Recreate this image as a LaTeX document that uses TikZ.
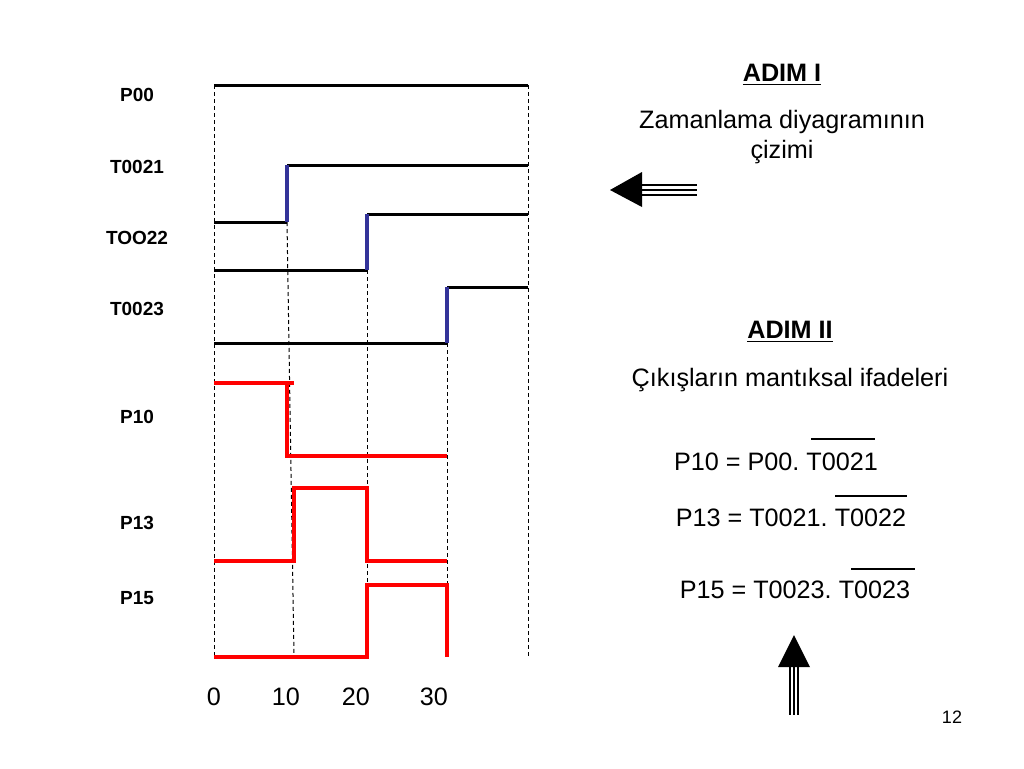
\documentclass[tikz,border=0pt]{standalone}
\usepackage{fontspec}
\setmainfont{Liberation Sans}
\frenchspacing
\definecolor{bleu}{RGB}{51,51,153}
\tikzset{
  etiq/.style={font=\bfseries\fontsize{9.5}{11}\selectfont},
  texte/.style={font=\fontsize{12.6}{15}\selectfont},
  signal/.style={line width=1.5pt},
  front/.style={line width=2pt, bleu},
  sortie/.style={line width=1.8pt, red},
  repere/.style={line width=0.5pt, dash pattern=on 2pt off 1.5pt},
}
\begin{document}
\begin{tikzpicture}[x=0.5pt, y=-0.5pt]
    \useasboundingbox (0,0) rectangle (1024,768);

    % Lignes de repere en pointilles
    \draw[repere] (214,85) -- (214,657);
    \draw[repere] (528,85) -- (528,657);
    \draw[repere] (287,222) -- (294,657);
    \draw[repere] (367,270) -- (367,657);
    \draw[repere] (447,343) -- (447,657);

    % Noms des signaux
    \node[etiq] (p00) at (137,95) {P00};
    \node[etiq] (t21) at (137,167) {T0021};
    \node[etiq] (t22) at (137,238) {TOO22};
    \node[etiq] (t23) at (137,309) {T0023};
    \node[etiq] (p10) at (137,417) {P10};
    \node[etiq] (p13) at (137,523) {P13};
    \node[etiq] (p15) at (137,598) {P15};

    % Entrees
    \draw[signal] (214,85) -- (528,85);
    \draw[signal] (214,222) -- (287,222);
    \draw[signal] (287,165) -- (528,165);
    \draw[signal] (214,270) -- (367,270);
    \draw[signal] (367,214) -- (528,214);
    \draw[signal] (214,343) -- (447,343);
    \draw[signal] (447,287) -- (528,287);
    % Fronts montants
    \draw[front] (287,222) -- (287,165);
    \draw[front] (367,270) -- (367,214);
    \draw[front] (447,343) -- (447,287);

    % Sorties
    \draw[sortie] (214,383) -- (294,383);
    \draw[sortie] (287,383) -- (287,456) -- (447,456);
    \draw[sortie] (214,561) -- (294,561) -- (294,488) -- (367,488) -- (367,561) -- (447,561);
    \draw[sortie] (214,657) -- (367,657) -- (367,585) -- (447,585) -- (447,657);

    % Axe des temps
    \foreach \t/\x in {0/214,10/286,20/356,30/434}
        \node[texte] (t\t) at (\x,697) {\t};

    % Etape I
    \node[texte, font=\bfseries\fontsize{12.6}{15}\selectfont] (adim1) at (782,75) {\underline{ADIM I}};
    \node[texte, align=center] (zaman) at (782,137) {Zamanlama diyagramının\\çizimi};
    \fill (610,190) -- (642,172) -- (642,207) -- cycle;
    \foreach \y in {185,190,195}
        \draw[line width=1pt] (642,\y) -- (697,\y);

    % Etape II
    \node[texte, font=\bfseries\fontsize{12.6}{15}\selectfont] (adim2) at (790,332) {\underline{ADIM II}};
    \node[texte] (cikis) at (790,380) {Çıkışların mantıksal ifadeleri};
    \node[texte] (eq1) at (776,462) {P10 = P00. T0021};
    \node[texte] (eq2) at (791,518) {P13 = T0021. T0022};
    \node[texte] (eq3) at (795,590) {P15 = T0023. T0023};
    \draw[line width=1.2pt] (811,439) -- (875,439);
    \draw[line width=1.2pt] (835,496) -- (907,496);
    \draw[line width=1.2pt] (851,569) -- (915,569);
    \fill (794,635) -- (778,667) -- (810,667) -- cycle;
    \foreach \x in {790,794,798}
        \draw[line width=1pt] (\x,667) -- (\x,715);

    % Numero de page
    \node[font=\fontsize{9}{11}\selectfont] (page) at (952,717) {12};
\end{tikzpicture}
\end{document}
